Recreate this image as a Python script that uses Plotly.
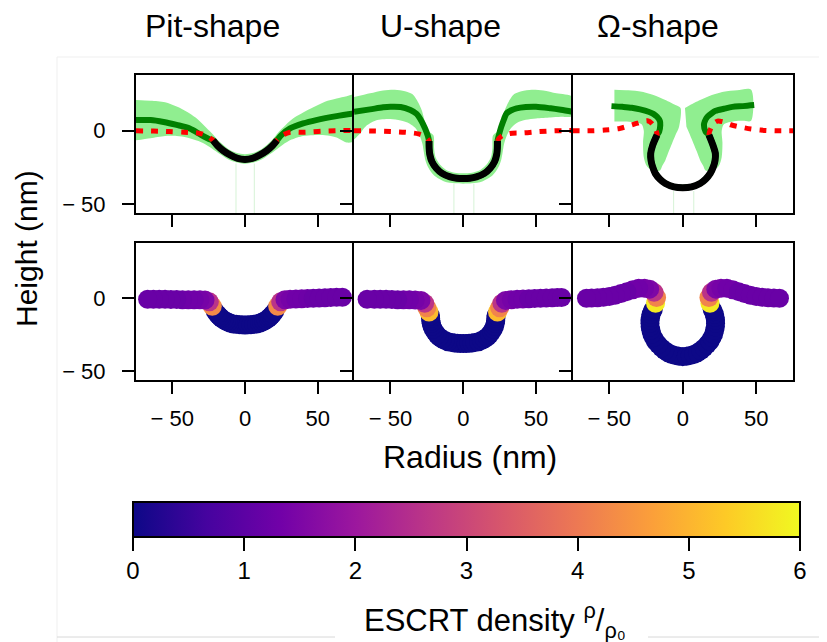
import plotly.graph_objects as go

# ---------------- data (nm) ----------------
# Pit-shape, top row
pit_band_x = [-75, -65, -55, -47, -40, -34, -28, -23, -18, -12, -6, 0, 6, 12, 18, 23, 28, 34, 40, 47, 55, 63, 70, 75,
              75, 70, 63, 55, 47, 40, 32, 26, 20, 14, 8, 0, -8, -14, -20, -26, -32, -40, -47, -55, -65, -75]
pit_band_y = [21, 20.5, 19.5, 16.5, 13, 9, 3.5, -1.5, -7, -12, -15, -16, -15, -12, -7, -1, 4, 9, 12.5, 16, 19.8, 22, 23.5, 24.5,
              -7, -8, -4.5, -3, -3, -3.5, -6, -9.5, -14, -18, -21, -22.5, -21, -18, -14, -10, -7, -4.5, -3.5, -3.5, -5, -6.5]
pit_faint_x = [-6.2, -6.2, None, 6.4, 6.4]
pit_faint_y = [-22.3, -60, None, -22.3, -60]
pit_green_x = [-75, -65, -56, -47, -38, -30, -24, -22, -19, -15, -10, -5, 0, 5, 10, 15, 19, 22, 25, 31, 40, 49, 63, 75]
pit_green_y = [7.3, 7.3, 6, 4, 1.6, -2.9, -5.9, -6.5, -10, -13.5, -16.6, -18.8, -19.5, -18.8, -16.6, -13.5, -10, -6.5, -3,
               1.6, 5, 7.3, 10, 11.8]
pit_red_x = [-75, -63, -52, -42, -32, -26, -22, -19, -15, -10, -5, 0, 5, 10, 15, 19, 22, 26, 31, 41, 52, 62, 75]
pit_red_y = [0, -0.2, -0.5, -1, -1.6, -3.5, -6.5, -10, -13.5, -16.6, -18.8, -19.5, -18.8, -16.6, -13.5, -10, -6.5, -3, -1,
             -1, -0.3, 0, 0.3]
pit_black_x = [-22, -19, -15, -10, -5, 0, 5, 10, 15, 19, 22]
pit_black_y = [-6.5, -10, -13.5, -16.6, -18.8, -19.5, -18.8, -16.6, -13.5, -10, -6.5]

# U-shape, top row
u_band_x = [-75, -64, -55, -47, -40, -35, -31, -28.5, -26, -24.5, -20.5, -20, -19, -16, -12, -6, 0, 6, 12, 16, 19, 20,
            20.5, 24.5, 26, 28.5, 31, 35, 40, 47, 55, 64, 75,
            75, 67, 60, 50, 43, 37, 33, 30, 28, 27, 26, 24, 20, 13, 6, 0, -6, -13, -20, -24, -26, -27, -28, -30, -33,
            -37, -43, -50, -60, -67, -71, -75]
u_band_y = [23, 25.5, 27.5, 28, 27, 25, 19.5, 14, 5, 0, -3, -12, -18, -23, -26.5, -28.5, -29, -28.5, -26.5, -23, -18,
            -12, -3, 0, 5, 14, 19.5, 25, 27, 28, 27.5, 25.5, 23,
            10, 9.5, 9, 8.4, 7.5, 5.5, 2, -3, -9, -15, -20, -25, -30.5, -34.5, -35.8, -36, -35.8, -34.5, -30.5, -25,
            -20, -15, -9, -3, 2, 5, 7, 8, 7, 3, -2, -6]
u_faint_x = [-6.4, -6.4, None, 7.3, 7.3]
u_faint_y = [-36, -60, None, -36, -60]
u_green_x = [-75, -64, -55, -50, -43, -36.3, -32, -29.7, -26.2, -24.3, -23.5, -23.4, -23, -21.5, -18.5, -14.5, -9, -4.5,
             0, 4.5, 9, 14.5, 18.5, 21.5, 23, 23.4, 23.5, 24.3, 26, 28, 29.7, 33, 36.6, 43, 50, 60, 67, 75]
u_green_y = [13, 14.6, 16, 16.4, 16.2, 14.1, 11.5, 8.4, 1.6, -3.5, -7, -12, -16, -21, -25.5, -29, -31.4, -32.3, -32.5,
             -32.3, -31.4, -29, -25.5, -21, -16, -12, -7, -3.5, 2.5, 8, 11.8, 14, 15.3, 16.2, 16.4, 15.3, 14.3, 13]
u_red_x = [-75, -60.5, -50, -40, -30.8, -26.5, -23.5, -23.4, -23, -21.5, -18.5, -14.5, -9, -4.5, 0, 4.5, 9, 14.5, 18.5,
           21.5, 23, 23.4, 23.5, 26.5, 32, 42, 52.5, 62.8, 75]
u_red_y = [0, -0.2, -0.5, -1, -2.1, -3.8, -7, -12, -16, -21, -25.5, -29, -31.4, -32.3, -32.5, -32.3, -31.4, -29, -25.5,
           -21, -16, -12, -7, -3.5, -1.8, -1.4, -0.5, 0, 0.2]
u_black_x = [-23.5, -23.4, -23, -21.5, -18.5, -14.5, -9, -4.5, 0, 4.5, 9, 14.5, 18.5, 21.5, 23, 23.4, 23.5]
u_black_y = [-7, -12, -16, -21, -25.5, -29, -31.4, -32.3, -32.5, -32.3, -31.4, -29, -25.5, -21, -16, -12, -7]

# Omega-shape, top row
om_bandL_x = [-46.5, -37, -27.8, -19, -11.8, -5, -1.5, -2.5, -5, -7.3, -9.5, -11.8, -14, -15.3, -20, -24.5, -26.5, -27,
              -26.5, -28, -35, -41, -46.5]
om_bandL_y = [28, 27.6, 26.6, 24, 20.9, 17.5, 15.5, 2.7, -3, -8.6, -14, -20, -24, -26.8, -27.5, -24, -18, -8, 0, 4.5, 6,
              6.3, 6.3]
om_bandR_x = [1.5, 5, 11.8, 19, 27.8, 37, 46.5, 46.5, 41, 35, 28, 26.5, 27, 26.5, 24.5, 20, 15.3, 14, 11.8, 9.5, 7.3, 5,
              2.5]
om_bandR_y = [15.5, 17.5, 20.9, 24, 26.6, 27.6, 28, 6.8, 6.8, 6.5, 4.5, 0, -8, -18, -24, -27.5, -26.8, -24, -20, -14,
              -8.6, -3, 2.7]
om_faint_x = [-6.2, -6.2, None, 7.5, 7.5]
om_faint_y = [-41, -60, None, -41, -60]
om_green_x = [-48.5, -41, -34.7, -29, -23.3, -20, -17.5, -15.5, -15.3, -16, -17.5, -20.5, -21.8, -21.6, -20.5, -18.7,
              -15.5, -11.8, -6, 0, 6, 11.8, 15.5, 18.7, 20.8, 22, 22.2, 20.6, 17.8, 15.5, 14.4, 15, 16.7, 19.5, 22.4,
              28, 33.8, 41, 48.6]
om_green_y = [16.8, 16.3, 15.7, 14.6, 13, 11.5, 9.5, 6.5, 3.9, -0.5, -2.9, -10, -15.5, -20, -24.5, -29, -33, -35.9,
              -38.2, -38.8, -38.2, -35.9, -33, -29, -24.5, -20, -15.5, -10, -2.9, -0.5, 3.9, 6.5, 9.5, 11.8, 13.6, 15,
              16.3, 16.8, 17.5]
om_red_x = [-75, -63, -53, -43, -33, -27, -24, -21, -18.5, -17.5, -20.5, -21.8, -21.6, -20.5, -18.7, -15.5, -11.8, -6, 0,
            6, 11.8, 15.5, 18.7, 20.8, 22, 22.2, 20.6, 17.8, 19, 21, 23.6, 27, 32.7, 43, 53, 63.5, 75]
om_red_y = [0, 0, 0.5, 1.6, 4.5, 6.3, 6.8, 5, 1, -2.9, -10, -15.5, -20, -24.5, -29, -33, -35.9, -38.2, -38.8, -38.2,
            -35.9, -33, -29, -24.5, -20, -15.5, -10, -2.9, 1.5, 5, 6.6, 6.2, 4.1, 1.8, 0.5, 0, 0]
om_black_x = [-17.5, -20.5, -21.8, -21.6, -20.5, -18.7, -15.5, -11.8, -6, 0, 6, 11.8, 15.5, 18.7, 20.8, 22, 22.2, 20.6,
              17.8]
om_black_y = [-2.9, -10, -15.5, -20, -24.5, -29, -33, -35.9, -38.2, -38.8, -38.2, -35.9, -33, -29, -24.5, -20, -15.5,
              -10, -2.9]

# Bottom row: membrane profiles coloured by ESCRT density (listed from the tip outwards)
pitL_x = [0, -2, -4, -6, -8, -10, -11.5, -13, -14.5, -16, -17, -18, -19, -20.5, -22.5, -24.5, -27.5, -31, -35, -39, -43,
          -47, -51, -55, -59, -63, -67]
pitL_y = [-18.3, -18.25, -18.1, -17.9, -17.6, -17.1, -16.5, -15.8, -15, -14, -13, -12, -11, -9, -5.5, -2.5, -1.3, -1.1,
          -1.1, -1.0, -1.0, -0.9, -0.9, -0.8, -0.8, -0.7, -0.7]
pitL_rho = [0, 0, 0, 0, 0, 0, 0, 0, 0, 0, 0, 0, 0, 0, 4.3, 2.6, 1.5, 1.4, 1.3, 1.3, 1.25, 1.2, 1.2, 1.2, 1.2, 1.2, 1.2]
pitR_x = [2, 4, 6, 8, 10, 11.5, 13, 14.5, 16, 17, 18, 19, 20.5, 22.5, 24.5, 27.5, 31, 35, 39, 43, 47, 51, 55, 59, 63, 67]
pitR_y = [-18.25, -18.1, -17.9, -17.6, -17.1, -16.5, -15.8, -15, -14, -13, -12, -11, -9, -5.5, -2.5, -1.0, -0.8, -0.6,
          -0.4, -0.2, 0, 0.2, 0.3, 0.5, 0.6, 0.7]
pitR_rho = [0, 0, 0, 0, 0, 0, 0, 0, 0, 0, 0, 0, 0, 4.3, 2.6, 1.5, 1.4, 1.3, 1.3, 1.25, 1.2, 1.2, 1.2, 1.2, 1.2, 1.2]

uL_x = [0, -2, -4, -6, -8, -10.5, -12.5, -14.5, -16.5, -18, -19.5, -20.6, -21.5, -22, -22.3, -22.4, -22.5, -23.5, -25,
        -26.5, -29, -33, -37, -41, -45, -49, -53, -57, -61, -66]
uL_y = [-31, -30.95, -30.8, -30.6, -30.3, -29.8, -29, -28, -26.5, -25, -23, -21, -19, -17.2, -15.5, -13.7, -12, -9.5,
        -6.5, -3.5, -1.5, -1.2, -1.1, -1.0, -1.0, -0.9, -0.8, -0.8, -0.7, -0.7]
uL_rho = [0, 0, 0, 0, 0, 0, 0, 0, 0, 0, 0, 0, 0, 0, 0, 0, 0, 5.1, 4.2, 2.6, 1.5, 1.4, 1.3, 1.3, 1.2, 1.2, 1.2, 1.2, 1.2,
          1.2]
uR_x = [2, 4, 6, 8, 10.5, 12.5, 14.5, 16.5, 18, 19.5, 20.6, 21.5, 22, 22.3, 22.4, 22.5, 23.5, 25, 26.5, 29, 33, 37, 41,
        45, 49, 53, 57, 61, 64.5, 67.5]
uR_y = [-30.95, -30.8, -30.6, -30.3, -29.8, -29, -28, -26.5, -25, -23, -21, -19, -17.2, -15.5, -13.7, -12, -9.5, -6.5,
        -3.5, -1.5, -1.0, -0.8, -0.6, -0.4, -0.2, 0, 0.2, 0.3, 0.4, 0.5]
uR_rho = [0, 0, 0, 0, 0, 0, 0, 0, 0, 0, 0, 0, 0, 0, 0, 0, 5.1, 4.2, 2.6, 1.5, 1.4, 1.3, 1.3, 1.2, 1.2, 1.2, 1.2, 1.2,
          1.2, 1.2]

omL_x = [0, -2.5, -5, -7.5, -10, -12.3, -14.5, -16.6, -18.5, -19.9, -21, -21.7, -22.2, -22.3, -22.3, -21.9, -21.5, -20.8,
         -20, -18.5, -17.8, -19.5, -22.5, -26, -30, -34, -38, -42, -46, -50, -54, -58, -62, -65.5]
omL_y = [-40, -39.8, -39.3, -38.5, -37.3, -35.8, -34, -31.8, -29.5, -27, -24.5, -22, -19.5, -17.2, -15, -13, -11, -9.2,
         -7.5, -3.5, 0.5, 4, 6.2, 6.8, 6.8, 5.8, 4.5, 3.2, 2, 1.2, 0.6, 0.3, 0.1, 0]
omL_rho = [0, 0, 0, 0, 0, 0, 0, 0, 0, 0, 0, 0, 0, 0, 0, 0, 0, 0, 0, 5.8, 4.2, 2.6, 1.5, 1.4, 1.3, 1.3, 1.2, 1.2, 1.2,
           1.2, 1.2, 1.2, 1.2, 1.2]
omR_x = [2.5, 5, 7.5, 10, 12.3, 14.5, 16.6, 18.5, 19.9, 21, 21.7, 22.2, 22.3, 22.3, 21.9, 21.5, 20.8, 20, 18.5, 17.8,
         19.5, 22.5, 26, 30, 34, 38, 42, 46, 50, 54, 58, 62, 65.8]
omR_y = [-39.8, -39.3, -38.5, -37.3, -35.8, -34, -31.8, -29.5, -27, -24.5, -22, -19.5, -17.2, -15, -13, -11, -9.2, -7.5,
         -3.5, 0.5, 4, 6.2, 6.8, 6.8, 5.8, 4.5, 3.2, 2, 1.2, 0.6, 0.3, 0.1, 0]
omR_rho = [0, 0, 0, 0, 0, 0, 0, 0, 0, 0, 0, 0, 0, 0, 0, 0, 0, 0, 5.8, 4.2, 2.6, 1.5, 1.4, 1.3, 1.3, 1.2, 1.2, 1.2, 1.2,
           1.2, 1.2, 1.2, 1.2]

panel_titles = ["Pit-shape", "U-shape", "\u03a9-shape"]
x_tickvals = [-50, 0, 50]
x_ticktext = ["\u2212 50", "0", "50"]
y_tickvals = [-50, 0]
y_ticktext = ["\u2212 50", "0"]
cbar_tickvals = [0, 1, 2, 3, 4, 5, 6]
x_range = [-75, 75]
y_range = [-56, 38]

# ---------------- layout helpers (positions in page pixels) ----------------
OX, OY = 8, 8            # page body offset of the figure
PW, PH = 827, 642        # page size
FW, FH = PW - OX, PH - OY
L, R, T, B = 136, 793, 75, 380   # plot area on the page
W, H = R - L, B - T


def fx(p):
    return (p - L) / W


def fy(p):
    return (B - p) / H


FONT = "Liberation Sans, Arial, Helvetica, sans-serif"
BAND = "#90ee90"
DARK = "#008000"

fig = go.Figure()


def add_top(ax, bands, faint, green, red, black):
    xa, ya = "x" + ax, "y" + ax
    for bx, by in bands:
        fig.add_trace(go.Scatter(x=bx, y=by, mode="lines", fill="toself", fillcolor=BAND,
                                 line=dict(width=0, color=BAND, shape="spline", smoothing=0.8),
                                 xaxis=xa, yaxis=ya, hoverinfo="skip", showlegend=False))
    fig.add_trace(go.Scatter(x=faint[0], y=faint[1], mode="lines", line=dict(color="#d6f3d6", width=1),
                             xaxis=xa, yaxis=ya, hoverinfo="skip", showlegend=False))
    fig.add_trace(go.Scatter(x=green[0], y=green[1], mode="lines",
                             line=dict(color=DARK, width=6, shape="spline", smoothing=0.8),
                             xaxis=xa, yaxis=ya, showlegend=False))
    fig.add_trace(go.Scatter(x=red[0], y=red[1], mode="lines",
                             line=dict(color="#ff0000", width=5, dash="7px,8px", shape="spline", smoothing=0.8),
                             xaxis=xa, yaxis=ya, showlegend=False))
    fig.add_trace(go.Scatter(x=black[0], y=black[1], mode="lines",
                             line=dict(color="black", width=7, shape="spline", smoothing=0.8),
                             xaxis=xa, yaxis=ya, showlegend=False))


add_top("", [(pit_band_x, pit_band_y)], (pit_faint_x, pit_faint_y), (pit_green_x, pit_green_y),
        (pit_red_x, pit_red_y), (pit_black_x, pit_black_y))
add_top("2", [(u_band_x, u_band_y)], (u_faint_x, u_faint_y), (u_green_x, u_green_y),
        (u_red_x, u_red_y), (u_black_x, u_black_y))
add_top("3", [(om_bandL_x, om_bandL_y), (om_bandR_x, om_bandR_y)], (om_faint_x, om_faint_y),
        (om_green_x, om_green_y), (om_red_x, om_red_y), (om_black_x, om_black_y))


def add_bottom(ax, halves):
    for hx, hy, hr in halves:
        fig.add_trace(go.Scatter(x=hx, y=hy, mode="markers",
                                 marker=dict(color=hr, coloraxis="coloraxis", size=19, line=dict(width=0)),
                                 xaxis="x" + ax, yaxis="y" + ax, showlegend=False))


add_bottom("4", [(pitL_x, pitL_y, pitL_rho), (pitR_x, pitR_y, pitR_rho)])
add_bottom("5", [(uL_x, uL_y, uL_rho), (uR_x, uR_y, uR_rho)])
add_bottom("6", [(omL_x, omL_y, omL_rho), (omR_x, omR_y, omR_rho)])

xd = [[0, fx(354)], [fx(354), fx(572.5)], [fx(572.5), 1]]
yd_top = [fy(213), 1]
yd_bot = [0, fy(242.7)]

axis_common = dict(showline=True, linecolor="black", linewidth=2, ticks="outside", ticklen=12,
                   tickwidth=2, tickcolor="black", showgrid=False, zeroline=False,
                   tickfont=dict(family=FONT, size=22, color="black"))

layout_axes = {}
for i in range(6):
    n = "" if i == 0 else str(i + 1)
    col = i % 3
    is_top = i < 3
    xa = dict(axis_common, domain=xd[col], range=x_range, anchor="y" + n, tickvals=x_tickvals, mirror=True,
              ticktext=x_ticktext, showticklabels=not is_top, ticklabelstandoff=6)
    # the right border of panels 1 and 2 is the left spine of the next panel
    ya = dict(axis_common, domain=yd_top if is_top else yd_bot, range=y_range, anchor="x" + n,
              mirror=(col == 2), tickvals=y_tickvals, ticktext=y_ticktext, showticklabels=(col == 0),
              ticklabelstandoff=12)
    layout_axes["xaxis" + n] = xa
    layout_axes["yaxis" + n] = ya

annotations = []
for t, cx, cy in zip(panel_titles, [212.5, 440, 658], [26, 26, 26]):
    annotations.append(dict(text=t, x=fx(cx), y=fy(cy), xref="paper", yref="paper", showarrow=False,
                            xanchor="center", yanchor="middle", font=dict(family=FONT, size=32, color="black")))
annotations.append(dict(text="Height (nm)", x=fx(26), y=fy(249), xref="paper", yref="paper", showarrow=False,
                        textangle=-90, xanchor="center", yanchor="middle",
                        font=dict(family=FONT, size=30, color="black")))
annotations.append(dict(text="Radius (nm)", x=fx(470), y=fy(457), xref="paper", yref="paper", showarrow=False,
                        xanchor="center", yanchor="middle", font=dict(family=FONT, size=32, color="black")))
annotations.append(dict(text="ESCRT density <sup>\u03c1</sup>/<sub>\u03c1\u2080</sub>", x=fx(495), y=fy(620),
                        xref="paper", yref="paper", showarrow=False, xanchor="center", yanchor="middle",
                        font=dict(family=FONT, size=31, color="black")))

shapes = [
    dict(type="line", xref="paper", yref="paper", x0=fx(57), x1=fx(827), y0=fy(57), y1=fy(57),
         line=dict(color="#efefef", width=1), layer="below"),
    dict(type="line", xref="paper", yref="paper", x0=fx(57), x1=fx(57), y0=fy(57), y1=fy(642),
         line=dict(color="#efefef", width=1), layer="below"),
    dict(type="line", xref="paper", yref="paper", x0=fx(57), x1=fx(335), y0=fy(637), y1=fy(637),
         line=dict(color="#d8d8d8", width=1), layer="below"),
    dict(type="line", xref="paper", yref="paper", x0=fx(648), x1=fx(827), y0=fy(637), y1=fy(637),
         line=dict(color="#d8d8d8", width=1), layer="below"),
]

fig.update_layout(
    width=FW, height=FH, margin=dict(l=L - OX, r=PW - R, t=T - OY, b=PH - B),
    paper_bgcolor="white", plot_bgcolor="white", showlegend=False,
    font=dict(family=FONT, color="black"),
    coloraxis=dict(colorscale="Plasma", cmin=0, cmax=6,
                   colorbar=dict(orientation="h", x=fx(133), xanchor="left", y=fy(502), yanchor="top",
                                 len=667, lenmode="pixels", thickness=35, thicknessmode="pixels",
                                 outlinewidth=2, outlinecolor="black", xpad=0, ypad=0,
                                 ticks="outside", ticklen=13, tickwidth=2, tickcolor="black",
                                 tickvals=cbar_tickvals, tickfont=dict(family=FONT, size=24, color="black"))),
    annotations=annotations, shapes=shapes,
    **layout_axes,
)

fig.write_html("out.html")
